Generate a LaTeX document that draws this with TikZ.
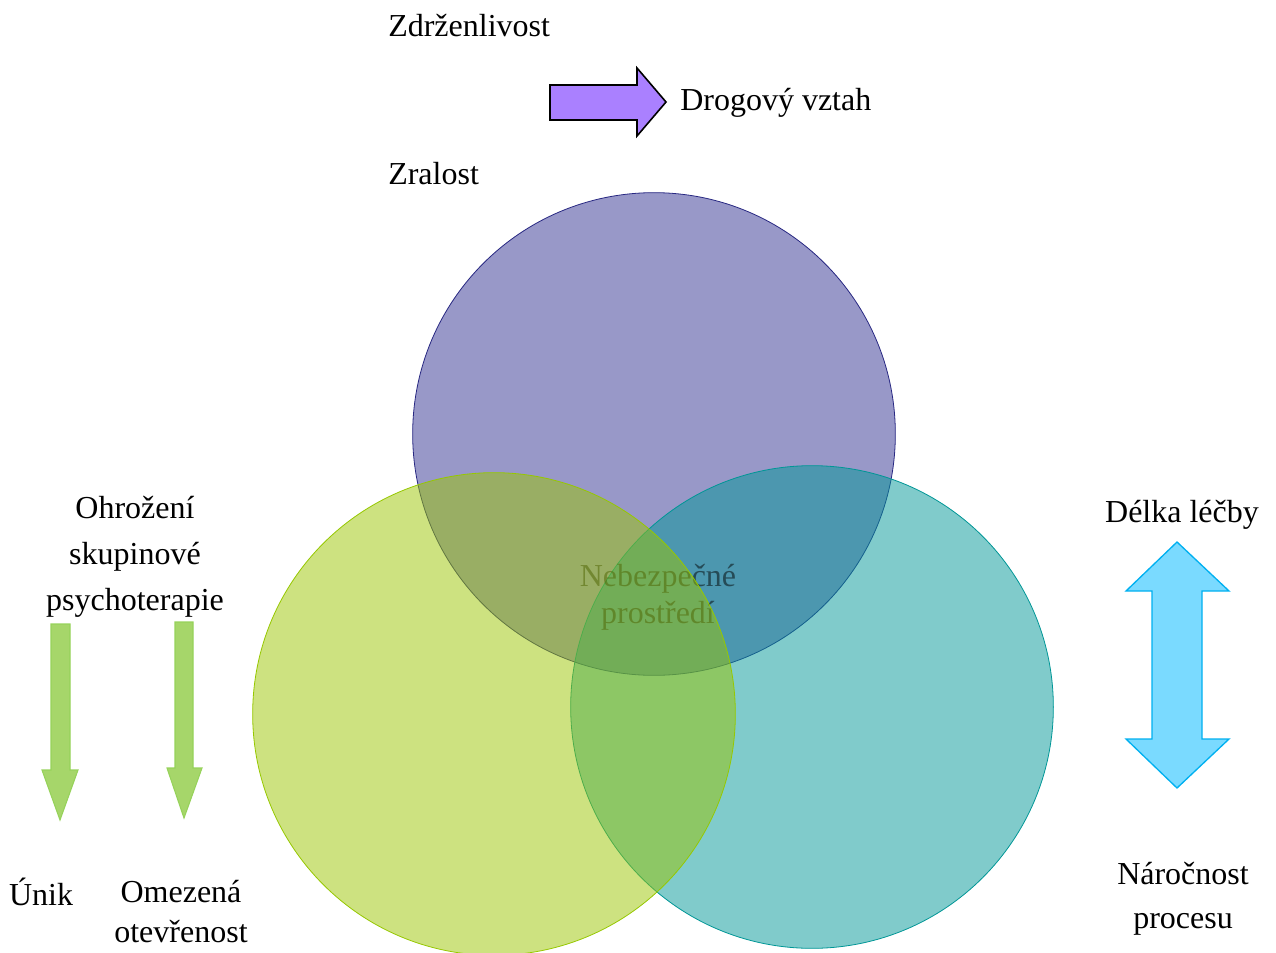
\documentclass[tikz,border=0pt]{standalone}
\usepackage{fontspec}
\setmainfont{Liberation Serif}
\definecolor{cpurple}{RGB}{49,49,145}
\definecolor{cpurpleline}{RGB}{40,40,130}
\definecolor{cteal}{RGB}{1,151,151}
\definecolor{ctealline}{RGB}{0,150,150}
\definecolor{cgreen}{RGB}{155,197,1}
\definecolor{cgreenline}{RGB}{150,200,0}
\definecolor{arrpurple}{RGB}{170,128,255}
\definecolor{arrgreen}{RGB}{166,214,106}
\definecolor{arrgreenline}{RGB}{150,210,90}
\definecolor{arrcyan}{RGB}{122,218,255}
\definecolor{arrcyanline}{RGB}{0,176,240}
\tikzset{
  lbl/.style={inner sep=0pt, align=center, font=\fontsize{24}{34.5}\selectfont},
  venn/.style={circle, minimum size=362pt, inner sep=0pt, fill opacity=0.5, line width=0.6pt},
}
\begin{document}
\begin{tikzpicture}[x=0.75pt,y=-0.75pt]
\useasboundingbox (0,0) rectangle (1276,952);
% circles
\node[venn, fill=cpurple, draw=cpurpleline] (cp) at (654,434) {};
\node[venn, fill=cteal, draw=ctealline] (ct) at (812,707) {};
\node[lbl, font=\fontsize{24}{27.75}\selectfont, text=black, text opacity=0.5] (center) at (658,597) {Nebezpečné\\prostředí};
\node[venn, fill=cgreen, draw=cgreenline] (cg) at (494,714) {};
% top labels
\node[lbl, anchor=west] (zdr) at (388,26) {Zdrženlivost};
\node[lbl, anchor=west] (drog) at (680,103) {Drogový vztah};
\node[lbl, anchor=west] (zral) at (388,174) {Zralost};
% purple arrow
\draw[fill=arrpurple, draw=black, line width=1.2pt, line join=miter]
  (550,85) -- (637,85) -- (637,68) -- (666,102) -- (637,136) -- (637,120) -- (550,120) -- cycle;
% left labels
\node[lbl] (ohr) at (135,557) {Ohrožení\\skupinové\\psychoterapie};
\draw[fill=arrgreen, draw=arrgreenline, line width=0.8pt]
  (51,624) -- (70,624) -- (70,770) -- (78,770) -- (60,820) -- (42,770) -- (51,770) -- cycle;
\draw[fill=arrgreen, draw=arrgreenline, line width=0.8pt]
  (175,622) -- (193,622) -- (193,768) -- (202,768) -- (184,818) -- (167,768) -- (175,768) -- cycle;
\node[lbl] (unik) at (41,892) {Únik};
\node[lbl, font=\fontsize{24}{30}\selectfont] (omez) at (181,912) {Omezená\\otevřenost};
% right labels
\node[lbl] (delka) at (1182,515) {Délka léčby};
\draw[fill=arrcyan, draw=arrcyanline, line width=1pt]
  (1177,542) -- (1229,591) -- (1202,591) -- (1202,739) -- (1229,739) -- (1177,788)
  -- (1126,739) -- (1152,739) -- (1152,591) -- (1126,591) -- cycle;
\node[lbl, font=\fontsize{24}{33}\selectfont] (naro) at (1183,899) {Náročnost\\procesu};
\end{tikzpicture}
\end{document}
